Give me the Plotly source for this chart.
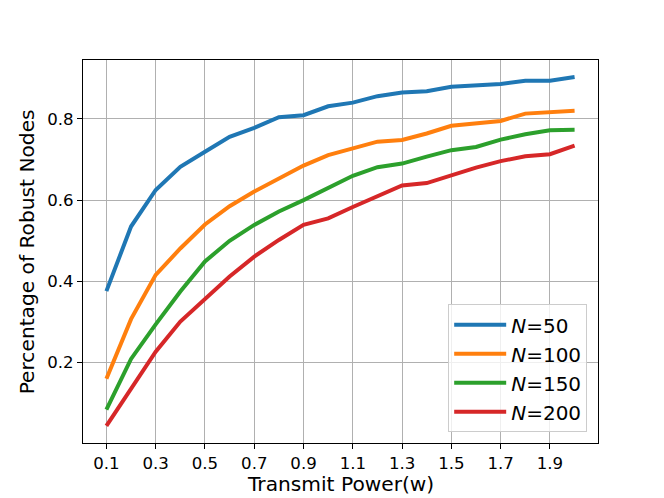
import plotly.graph_objects as go

x_power = [0.1, 0.2, 0.3, 0.4, 0.5, 0.6, 0.7, 0.8, 0.9, 1.0,
           1.1, 1.2, 1.3, 1.4, 1.5, 1.6, 1.7, 1.8, 1.9, 2.0]

n50 = [0.376, 0.535, 0.625, 0.682, 0.719, 0.756, 0.778, 0.804, 0.809, 0.831,
       0.840, 0.856, 0.865, 0.868, 0.879, 0.882, 0.886, 0.894, 0.894, 0.903]
n100 = [0.160, 0.307, 0.416, 0.481, 0.540, 0.585, 0.621, 0.652, 0.685, 0.711,
        0.727, 0.744, 0.748, 0.764, 0.783, 0.790, 0.795, 0.813, 0.817, 0.820]
n150 = [0.084, 0.209, 0.294, 0.375, 0.449, 0.500, 0.539, 0.572, 0.600, 0.631,
        0.660, 0.681, 0.690, 0.707, 0.723, 0.731, 0.749, 0.762, 0.772, 0.773]
n200 = [0.044, 0.137, 0.227, 0.301, 0.358, 0.412, 0.461, 0.502, 0.539, 0.555,
        0.583, 0.610, 0.636, 0.642, 0.662, 0.680, 0.696, 0.708, 0.713, 0.734]

series_names = ["<i>N</i>=50", "<i>N</i>=100", "<i>N</i>=150", "<i>N</i>=200"]
series_values = [n50, n100, n150, n200]
colors = ["#1f77b4", "#ff7f0e", "#2ca02c", "#d62728"]

x_ticks = [0.1, 0.3, 0.5, 0.7, 0.9, 1.1, 1.3, 1.5, 1.7, 1.9]
x_tick_text = ["0.1", "0.3", "0.5", "0.7", "0.9", "1.1", "1.3", "1.5", "1.7", "1.9"]
y_ticks = [0.2, 0.4, 0.6, 0.8]
y_tick_text = ["0.2", "0.4", "0.6", "0.8"]

x_title = "Transmit Power(w)"
y_title = "Percentage of Robust Nodes"

FONT = "DejaVu Sans"

fig = go.Figure()
for name, vals, col in zip(series_names, series_values, colors):
    fig.add_trace(go.Scatter(x=x_power, y=vals, mode="lines", name=name,
                             line=dict(color=col, width=4)))

axis_common = dict(
    showline=True, linecolor="black", linewidth=1, mirror=True,
    ticks="outside", ticklen=5, tickwidth=1, tickcolor="black",
    showgrid=True, gridcolor="#b0b0b0", gridwidth=1,
    zeroline=False, automargin=False,
    tickfont=dict(family=FONT, size=16.6, color="black"),
)

fig.update_layout(
    width=664, height=498, autosize=False,
    margin=dict(l=83, r=66.4, t=59.8, b=54.8),
    paper_bgcolor="white", plot_bgcolor="white",
    font=dict(family=FONT, color="black"),
    xaxis=dict(range=[0.005, 2.095], tickvals=x_ticks, ticktext=x_tick_text,
               **axis_common),
    yaxis=dict(range=[0.002, 0.945], tickvals=y_ticks, ticktext=y_tick_text,
               **axis_common),
    legend=dict(x=0.979, y=0.028, xanchor="right", yanchor="bottom",
                bgcolor="rgba(255,255,255,0.8)", bordercolor="#cccccc", borderwidth=1,
                font=dict(family=FONT, size=20, color="black"),
                tracegroupgap=0, itemwidth=52),
    showlegend=True,
    annotations=[
        dict(text=x_title, xref="paper", yref="paper", x=0.5, y=-0.106,
             xanchor="center", yanchor="middle", showarrow=False,
             font=dict(family=FONT, size=20.2, color="black")),
        dict(text=y_title, xref="paper", yref="paper", x=-0.109, y=0.5,
             xanchor="center", yanchor="middle", showarrow=False, textangle=-90,
             font=dict(family=FONT, size=20.2, color="black")),
    ],
)

fig.write_html("out.html", config={"displayModeBar": False},
               post_script="document.body.style.margin='0';document.body.style.padding='0';")
